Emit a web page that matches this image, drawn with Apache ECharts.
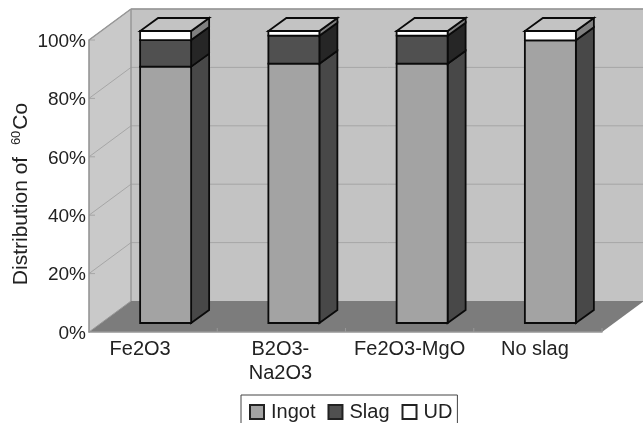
<!DOCTYPE html>
<html>
<head>
<meta charset="utf-8">
<style>html,body{margin:0;padding:0;background:#fff}#chart{width:643px;height:423px}</style>
<script src="https://cdn.jsdelivr.net/npm/echarts@6/dist/echarts.min.js"></script>
</head>
<body>
<div id="chart"></div>
<script>
// Distribution of 60Co across ingot, slag and undetermined fractions
const categories = ['Fe2O3', 'B2O3-\nNa2O3', 'Fe2O3-MgO', 'No slag'];
const ingot = [87.8, 88.8, 88.8, 96.8];
const slag = [9.1, 9.6, 9.6, 0];
const ud = [3.1, 1.6, 1.6, 3.2];
const yTicks = [0, 20, 40, 60, 80, 100];

// Oblique projection used for the pseudo-3D box
const DEPTH = [42, -31];
const BAR_FRONT = [12.5, -9];
const BAR_DEPTH = [18, -13];
const BAR_WIDTH = 51;
const FONT = '"Liberation Sans", Arial, sans-serif';
const TEXT = '#222';
// Extra right padding per category label, pulling it off the slot centre
const LABEL_PAD = [26, 2, 0, 6];

const shift = (p, d) => [p[0] + d[0], p[1] + d[1]];
const poly = (points, fill, stroke, lineWidth) => ({
  type: 'polygon',
  shape: { points },
  style: { fill, stroke: stroke || null, lineWidth: lineWidth || 0 }
});
const line = (a, b, stroke, lineWidth) => ({
  type: 'line',
  shape: { x1: a[0], y1: a[1], x2: b[0], y2: b[1] },
  style: { stroke, lineWidth: lineWidth || 1.5 }
});

// Walls, floor and gridlines of the box
function renderFrame(params, api) {
  const nCat = categories.length;
  const fl = api.coord([0, 0]);
  const step = api.size([1, 0])[0];
  const x0 = fl[0] - step / 2;
  const x1 = x0 + step * nCat;
  const yAt = v => api.coord([0, v])[1];
  const y0 = yAt(0), y100 = yAt(100);
  const c = [];
  const edge = '#979797';
  const grid = '#a6a6a6';
  c.push(poly([shift([x0, y0], DEPTH), shift([x1, y0], DEPTH), shift([x1, y100], DEPTH), shift([x0, y100], DEPTH)], '#c3c3c3'));
  c.push(poly([[x0, y0], shift([x0, y0], DEPTH), shift([x0, y100], DEPTH), [x0, y100]], '#c9c9c9'));
  c.push(poly([[x0, y0], [x1, y0], shift([x1, y0], DEPTH), shift([x0, y0], DEPTH)], '#7c7c7c'));
  yTicks.forEach(v => {
    if (v === 0) return;
    const y = yAt(v);
    c.push(line([x0, y], shift([x0, y], DEPTH), grid, 1));
    c.push(line(shift([x0, y], DEPTH), shift([x1, y], DEPTH), grid, 1));
    c.push(line([x0, y], [x0 + 6, y], grid, 1));
  });
  c.push(line([x0, y100], shift([x0, y100], DEPTH), edge, 1.5));
  c.push(line(shift([x0, y100], DEPTH), shift([x1, y100], DEPTH), edge, 1.5));
  c.push(line(shift([x0, y0], DEPTH), shift([x0, y100], DEPTH), edge, 1.5));
  c.push(line([x0, y0], shift([x0, y0], DEPTH), edge, 1));
  for (let i = 1; i <= nCat; i++) {
    c.push(line([x0 + step * i, y0 - 4], [x0 + step * i, y0], edge, 1));
  }
  return { type: 'group', children: c };
}

// One stacked block: front face, side face, and the lid on the uppermost block
function blockRenderer(front, side, isTop) {
  return function (params, api) {
    const base = api.coord([api.value(0), api.value(1)]);
    const top = api.coord([api.value(0), api.value(2)]);
    if (api.value(2) <= api.value(1)) return { type: 'group', children: [] };
    const xl = base[0] + BAR_FRONT[0] - BAR_WIDTH / 2;
    const xr = xl + BAR_WIDTH;
    const yb = base[1] + BAR_FRONT[1];
    const yt = top[1] + BAR_FRONT[1];
    const ink = '#0a0a0a';
    const c = [
      poly([[xr, yb], shift([xr, yb], BAR_DEPTH), shift([xr, yt], BAR_DEPTH), [xr, yt]], side, ink, 1.8),
      poly([[xl, yb], [xr, yb], [xr, yt], [xl, yt]], front, ink, 1.8)
    ];
    if (isTop(params.dataIndex)) {
      c.push(poly([[xl, yt], [xr, yt], shift([xr, yt], BAR_DEPTH), shift([xl, yt], BAR_DEPTH)], '#c3c3c3', ink, 1.8));
    }
    return { type: 'group', children: c };
  };
}

const ingotRows = categories.map((_, i) => [i, 0, ingot[i]]);
const slagRows = categories.map((_, i) => [i, ingot[i], ingot[i] + slag[i]]);
const udRows = categories.map((_, i) => [i, ingot[i] + slag[i], ingot[i] + slag[i] + ud[i]]);

const blockSeries = (name, rows, front, side, isTop, z) => ({
  name,
  type: 'custom',
  data: rows,
  z,
  clip: false,
  silent: true,
  itemStyle: { color: front, borderColor: '#222', borderWidth: 1.2 },
  encode: { x: 0, y: 2 },
  renderItem: blockRenderer(front, side, isTop)
});

const chart = echarts.init(document.getElementById('chart'), null, { renderer: 'canvas' });
chart.setOption({
  animation: false,
  backgroundColor: '#fff',
  grid: { left: 89, right: 41, top: 40, bottom: 91, outerBoundsMode: 'none' },
  xAxis: {
    type: 'category',
    data: categories.map((value, i) => ({
      value,
      textStyle: { padding: [0, LABEL_PAD[i], 0, 0] }
    })),
    axisLine: { show: true, lineStyle: { color: '#979797', width: 1.5 } },
    axisTick: { show: false },
    axisLabel: { color: TEXT, fontFamily: FONT, fontSize: 20, lineHeight: 24, margin: 5, interval: 0 },
    z: 5
  },
  yAxis: {
    type: 'value',
    min: 0,
    max: 100,
    interval: 20,
    axisLine: { show: true, lineStyle: { color: '#8f8f8f', width: 1.5 } },
    axisTick: { show: false },
    splitLine: { show: false },
    axisLabel: {
      margin: 3,
      formatter: '{n|{value}%}',
      rich: { n: { color: TEXT, fontFamily: FONT, fontSize: 19, padding: [3, 0, 0, 0] } }
    },
    name: '{a|Distribution of  }{b|60}{a|Co}',
    nameLocation: 'middle',
    nameGap: 57,
    nameMoveOverlap: false,
    nameTextStyle: {
      padding: [0, 16, 0, 0],
      rich: {
        a: { color: TEXT, fontFamily: FONT, fontSize: 21 },
        b: { color: TEXT, fontFamily: FONT, fontSize: 13, verticalAlign: 'top', padding: [0, 1, 9, 0] }
      }
    },
    z: 5
  },
  legend: {
    data: ['Ingot', 'Slag', 'UD'],
    left: 241,
    top: 395,
    orient: 'horizontal',
    icon: 'rect',
    itemWidth: 14,
    itemHeight: 14,
    itemGap: 12,
    padding: [7, 5, 8, 8],
    borderColor: '#444',
    borderWidth: 1,
    selectedMode: false,
    textStyle: { color: TEXT, fontFamily: FONT, fontSize: 20, padding: [0, 0, 0, 2] }
  },
  series: [
    {
      name: 'frame',
      type: 'custom',
      data: [[0, 0]],
      z: 1,
      clip: false,
      silent: true,
      renderItem: renderFrame
    },
    blockSeries('Ingot', ingotRows, '#a3a3a3', '#484848', () => false, 2),
    blockSeries('Slag', slagRows, '#505050', '#262626', () => false, 3),
    blockSeries('UD', udRows, '#ffffff', '#808080', () => true, 4)
  ]
});
</script>
</body>
</html>
